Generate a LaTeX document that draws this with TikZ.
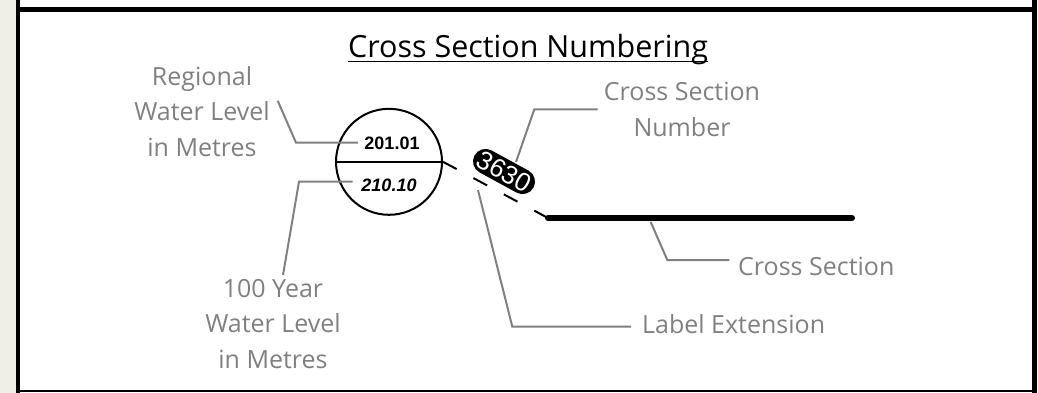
\documentclass[tikz,border=0pt]{standalone}
\usepackage{fontspec}
\setmainfont{Open Sans}
\newfontfamily\arialfont{Liberation Sans}
\usetikzlibrary{calc}
\definecolor{strip}{HTML}{F0EFE5}
\definecolor{callgray}{HTML}{808080}
\tikzset{
  frameline/.style={black, line width=#1},
  callout/.style={draw=callgray, line width=2pt},
  graytext/.style={text=callgray, font=\fontsize{25}{35.5}\selectfont, align=center, inner sep=0pt},
  valtext/.style={font=\arialfont\bfseries\fontsize{18}{20}\selectfont, inner sep=0pt},
}
\begin{document}
\begin{tikzpicture}[x=1pt, y=-1pt]
\useasboundingbox (0,0) rectangle (1038,393);
% frame
\fill[strip] (0,0) rectangle (16,393);
\draw[frameline=4pt] (18,0) -- (18,393);
\draw[frameline=5pt] (16,9.8) -- (1036,9.8);
\draw[frameline=5.5pt] (1034.5,0) -- (1034.5,393);
\draw[frameline=2.5pt] (16,390.8) -- (1036,390.8);
% title
\node[inner sep=0pt, anchor=base, font=\fontsize{30.5}{34}\selectfont] (title) at (528,58) {Cross Section Numbering};
\draw[line width=1.5pt] (title.base west) ++(0,3.6) coordinate (ul1) -- (title.base east |- ul1);
% circle
\node[draw, circle, line width=2pt, minimum size=106pt, inner sep=0pt] (circ) at (389,161.8) {};
\coordinate (hl) at (circ.west);
\coordinate (hr) at (circ.east);
\draw[line width=2pt] (hl) -- (hr);
\node[valtext, anchor=base] (v1) at (392,149.5) {201.01};
\node[valtext, anchor=base] (v2) at (389,191) {\itshape 210.10};
% extension dashed line
\coordinate (cs1) at (548,218);
\coordinate (cs2) at (852,218);
\draw[line width=2pt, dash pattern=on 15.5pt off 19pt] (hr) -- (cs1);
% cross section line
\draw[line width=6pt, line cap=round] (cs1) -- (cs2);
% gray labels
\node[graytext, anchor=north] (reg) at (202,66) {Regional\\Water Level\\in Metres};
\node[graytext, anchor=north] (hund) at (273,279) {100 Year\\Water Level\\in Metres};
\node[graytext, anchor=north] (csn) at (682,82) {Cross Section\\Number};
\node[graytext, anchor=base west] (csl) at (738,275) {Cross Section};
\node[graytext, anchor=base west] (lel) at (642,333) {Label Extension};
% callouts
\draw[callout] (277.7,100.7) -- (296,142.7) -- (358,142.7);
\draw[callout] (283,275) -- (299,181.7) -- (352.7,181.7);
\draw[callout] (597.7,109.3) -- (534.3,109.3) -- (516,162);
\draw[callout] (650.7,222) -- (667.3,260) -- (729.3,260);
\draw[callout] (478,190) -- (512.3,326.7) -- (631,326.7);
% section number label: halo + text
\coordinate (halo1) at (485.5,161.4);
\coordinate (halo2) at (522.5,181.6);
\draw[black, line width=25pt, line cap=round] (halo1) -- (halo2);
\node[rotate=-29, inner sep=0pt, text=white, font=\arialfont\fontsize{26}{28}\selectfont] (num) at ($(halo1)!0.5!(halo2)$) {3630};
\end{tikzpicture}
\end{document}
